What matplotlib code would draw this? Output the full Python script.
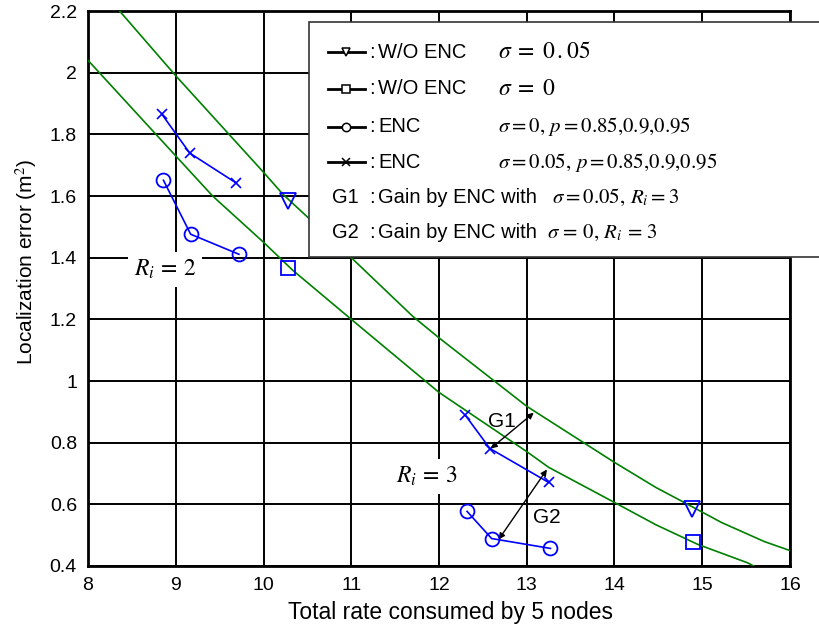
import matplotlib
matplotlib.use("Agg")
import matplotlib.pyplot as plt
from matplotlib.lines import Line2D
from matplotlib.patches import Rectangle

plt.rcParams['font.family'] = ['Liberation Sans', 'DejaVu Sans']
plt.rcParams['mathtext.fontset'] = 'stix'

# rate vs localization error, R_i = 2 group
enc05_ri2_x = [8.84, 9.16, 9.69]
enc05_ri2_y = [1.866, 1.739, 1.642]
enc0_ri2_x = [8.86, 9.17, 9.72]
enc0_ri2_y = [1.651, 1.476, 1.411]

# R_i = 3 group
enc05_ri3_x = [12.30, 12.58, 13.25]
enc05_ri3_y = [0.889, 0.781, 0.671]
enc0_ri3_x = [12.32, 12.60, 13.27]
enc0_ri3_y = [0.577, 0.489, 0.457]

# without ENC
woenc05_x = [10.28, 14.88]
woenc05_y = [1.583, 0.585]
woenc0_x = [10.28, 14.89]
woenc0_y = [1.367, 0.478]

# green reference curves
curve05_x = [8.30, 8.36, 9.0, 10.0, 10.22, 11.0, 11.7, 12.0, 13.0, 14.0, 14.47, 14.88, 15.22, 15.71, 16.0]
curve05_y = [2.22, 2.20, 1.99, 1.677, 1.606, 1.40, 1.21, 1.14, 0.918, 0.736, 0.655, 0.593, 0.541, 0.479, 0.45]
curve0_x = [8.0, 8.70, 9.0, 9.42, 10.0, 10.33, 11.0, 12.0, 13.0, 13.25, 14.0, 14.47, 14.95, 15.52, 15.65]
curve0_y = [2.04, 1.823, 1.73, 1.60, 1.45, 1.36, 1.2, 0.963, 0.771, 0.72, 0.606, 0.534, 0.47, 0.41, 0.39]

# gain arrows (start, end)
g1_arrow = [(12.59, 0.781), (13.08, 0.897)]
g2_arrow = [(12.68, 0.486), (13.23, 0.713)]

xticks = [8, 9, 10, 11, 12, 13, 14, 15, 16]
yticks = [0.4, 0.6, 0.8, 1.0, 1.2, 1.4, 1.6, 1.8, 2.0, 2.2]
ytick_labels = ['0.4', '0.6', '0.8', '1', '1.2', '1.4', '1.6', '1.8', '2', '2.2']

W, H = 820, 627
fig = plt.figure(figsize=(W / 100, H / 100), dpi=100)
ax = fig.add_axes([88 / W, 1 - 566 / H, (790 - 88) / W, (566 - 11) / H])

def fx(px):
    return px / W

def fy(py):
    return 1 - py / H

blue = '#0000ff'
green = '#008000'

ax.plot(curve05_x, curve05_y, color=green, lw=1.2, zorder=3)
ax.plot(curve0_x, curve0_y, color=green, lw=1.2, zorder=3)

for xs, ys in [(enc05_ri2_x, enc05_ri2_y), (enc05_ri3_x, enc05_ri3_y)]:
    ax.plot(xs, ys, color=blue, lw=1.2, marker='x', ms=7, mew=1.2, zorder=4)
for xs, ys in [(enc0_ri2_x, enc0_ri2_y), (enc0_ri3_x, enc0_ri3_y)]:
    ax.plot(xs, ys, color=blue, lw=1.2, marker='o', ms=10, mfc='none', mew=1.3, zorder=4)
ax.plot(woenc05_x, woenc05_y, ls='none', marker='v', ms=11, mfc='none', mec=blue, mew=1.3, zorder=4)
ax.plot(woenc0_x, woenc0_y, ls='none', marker='s', ms=9.5, mfc='none', mec=blue, mew=1.3, zorder=4)

for (x0, y0), (x1, y1) in [g1_arrow, g2_arrow]:
    ax.annotate('', xy=(x0, y0), xytext=(x1, y1),
                arrowprops=dict(arrowstyle='<|-|>', color='k', lw=1.0,
                                mutation_scale=9, shrinkA=0, shrinkB=0), zorder=5)
ax.text(12.72, 0.869, 'G1', fontsize=15, ha='center', va='center', zorder=5)
ax.text(13.23, 0.557, 'G2', fontsize=15, ha='center', va='center', zorder=5)

ax.text(8.875, 1.362, r'$R_i\,=\,2$', fontsize=17, ha='center', va='center', zorder=5,
        bbox=dict(facecolor='white', edgecolor='none', pad=4))
ax.text(11.86, 0.69, r'$R_i\,=\,3$', fontsize=17, ha='center', va='center', zorder=5,
        bbox=dict(facecolor='white', edgecolor='none', pad=4))

ax.set_xlim(8, 16)
ax.set_ylim(0.4, 2.2)
ax.set_xticks(xticks)
ax.set_yticks(yticks)
ax.set_yticklabels(ytick_labels)
ax.grid(True, color='black', lw=1.4)
ax.set_axisbelow(True)
ax.tick_params(length=0, labelsize=14, pad=8)
for sp in ax.spines.values():
    sp.set_linewidth(2)

fig.text(fx(451), fy(612), 'Total rate consumed by 5 nodes', fontsize=16.5, ha='center', va='center')
fig.text(fx(26), fy(262), 'Localization error (m$^2$)', fontsize=15, rotation=90,
         ha='center', va='center')

# legend panel
fig.patches.append(Rectangle((fx(309), fy(257)), fx(840) - fx(309), fy(22) - fy(257),
                             transform=fig.transFigure, facecolor='white',
                             edgecolor='#333333', lw=1.2, zorder=5))

rows_y = [52, 89, 127, 162, 197, 233]
symbols = ['v', 's', 'o', 'x']
names = ['W/O ENC', 'W/O ENC', 'ENC', 'ENC']
math_texts = [r'$\sigma\;=\;0\,.05$', r'$\sigma\;=\;0$',
              r'$\sigma = 0,\,p = 0.85{,}0.9{,}0.95$',
              r'$\sigma = 0.05,\,p = 0.85{,}0.9{,}0.95$']
math_sizes = [17, 17, 15, 15]
for ry, sym, name, mt, ms in zip(rows_y[:4], symbols, names, math_texts, math_sizes):
    fig.lines.append(Line2D([fx(328), fx(365)], [fy(ry), fy(ry)], transform=fig.transFigure,
                            color='black', lw=2, zorder=6))
    fig.lines.append(Line2D([fx(346.5)], [fy(ry)], transform=fig.transFigure, ls='none',
                            marker=sym, ms=6, mfc='white', mec='black', mew=1.1, zorder=7))
    fig.text(fx(369), fy(ry), ':', fontsize=14.5, ha='left', va='center', zorder=6)
    fig.text(fx(378), fy(ry), name, fontsize=14.5, ha='left', va='center', zorder=6)
    fig.text(fx(498), fy(ry), mt, fontsize=ms, ha='left', va='center', zorder=6)

gain_labels = ['G1', 'G2']
gain_math = [r'$\sigma = 0.05,\,R_i = 3$', r'$\sigma\,=\,0,\,R_i\,=\,3$']
gain_math_x = [552, 547]
for ry, g, mt, mx in zip(rows_y[4:], gain_labels, gain_math, gain_math_x):
    fig.text(fx(332), fy(ry), g, fontsize=14.5, ha='left', va='center', zorder=6)
    fig.text(fx(369), fy(ry), ':', fontsize=14.5, ha='left', va='center', zorder=6)
    fig.text(fx(378), fy(ry), 'Gain by ENC with', fontsize=14.5, ha='left', va='center', zorder=6)
    fig.text(fx(mx), fy(ry), mt, fontsize=15, ha='left', va='center', zorder=6)

fig.savefig('out.png', dpi=100)
